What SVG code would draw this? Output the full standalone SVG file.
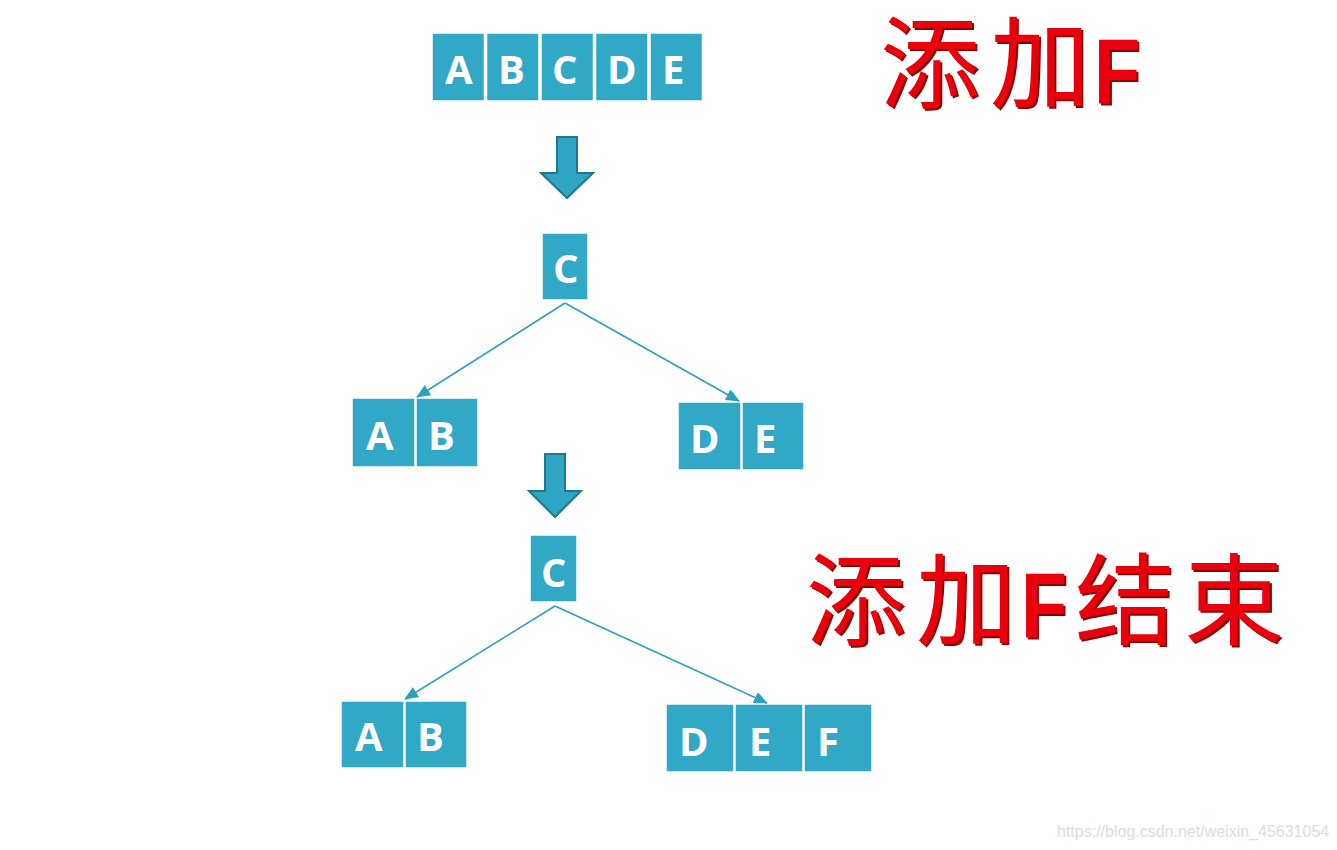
<svg xmlns="http://www.w3.org/2000/svg" width="1337" height="850" viewBox="0 0 1337 850">
<style>
.cell{fill:#31A8C6;stroke:#ffffff;stroke-width:1.5}
.lbl{font-family:"Open Sans","Liberation Sans",sans-serif;font-weight:bold;font-size:40px;fill:#ffffff}
.blk{fill:#2FA5C3;stroke:#1E7890;stroke-width:2;stroke-linejoin:miter}
.conn{stroke:#2E9FBF;stroke-width:1.6;fill:none}
.title{font-family:"Liberation Sans","Noto Sans CJK SC",sans-serif;font-size:100px;fill:#E8000B}
.latin{font-family:"Liberation Sans",Arial,sans-serif;font-weight:bold;font-size:92px;fill:#E8000B}
.wm{font-family:"Liberation Sans",Arial,sans-serif;font-size:16px;fill:#dddddd}
</style>
<defs>
<marker id="ah" markerUnits="userSpaceOnUse" markerWidth="14" markerHeight="12" refX="13" refY="6" orient="auto">
<path d="M0,0 L14,6 L0,12 Z" fill="#2E9FBF"/>
</marker>
<filter id="sh" filterUnits="userSpaceOnUse" x="0" y="0" width="1337" height="850">
<feOffset in="SourceAlpha" dx="1.5" dy="2" result="o"/>
<feFlood flood-color="#8A0000"/>
<feComposite in2="o" operator="in" result="s"/>
<feMerge><feMergeNode in="s"/><feMergeNode in="SourceGraphic"/></feMerge>
</filter>
</defs>
<rect width="1337" height="850" fill="#ffffff"/>

<g id="row-ABCDE">
<rect class="cell" x="432" y="33" width="52.5" height="68"/>
<rect class="cell" x="486.5" y="33" width="52.5" height="68"/>
<rect class="cell" x="541" y="33" width="52.5" height="68"/>
<rect class="cell" x="595.5" y="33" width="52.5" height="68"/>
<rect class="cell" x="650" y="33" width="52.5" height="68"/>
<text class="lbl" x="445" y="84">A</text>
<text class="lbl" x="498" y="84">B</text>
<text class="lbl" x="552" y="84">C</text>
<text class="lbl" x="607" y="84">D</text>
<text class="lbl" x="662" y="84">E</text>
</g>

<g id="step-arrow-1">
<path class="blk" d="M557,137 L577,137 L577,173 L593,173 L567,198 L541,173 L557,173 Z"/>
</g>

<g id="node-C1">
<rect class="cell" x="542" y="233" width="46" height="67"/>
<text class="lbl" x="553" y="283">C</text>
</g>
<g id="node-AB1">
<rect class="cell" x="352" y="398" width="63" height="69"/>
<rect class="cell" x="416" y="398" width="62" height="69"/>
<text class="lbl" x="366" y="450">A</text>
<text class="lbl" x="428" y="450">B</text>
</g>
<g id="node-DE1">
<rect class="cell" x="678" y="402" width="63" height="68"/>
<rect class="cell" x="742" y="402" width="62" height="68"/>
<text class="lbl" x="690" y="453">D</text>
<text class="lbl" x="754" y="453">E</text>
</g>

<g id="step-arrow-2">
<path class="blk" d="M545,454 L565,454 L565,491 L581,491 L555,517 L529,491 L545,491 Z"/>
</g>

<g id="node-C2">
<rect class="cell" x="530" y="535" width="47" height="67"/>
<text class="lbl" x="541" y="587">C</text>
</g>
<g id="node-AB2">
<rect class="cell" x="341" y="701" width="63" height="67"/>
<rect class="cell" x="405" y="701" width="62" height="67"/>
<text class="lbl" x="355" y="751">A</text>
<text class="lbl" x="417" y="751">B</text>
</g>
<g id="node-DEF">
<rect class="cell" x="666" y="704" width="68" height="68"/>
<rect class="cell" x="735" y="704" width="68" height="68"/>
<rect class="cell" x="804" y="704" width="68" height="68"/>
<text class="lbl" x="679" y="756">D</text>
<text class="lbl" x="749" y="756">E</text>
<text class="lbl" x="817" y="756">F</text>
</g>

<g id="connectors">
<line class="conn" x1="565" y1="303" x2="417" y2="397" marker-end="url(#ah)"/>
<line class="conn" x1="565" y1="303" x2="739" y2="401" marker-end="url(#ah)"/>
<line class="conn" x1="555" y1="606" x2="405" y2="699" marker-end="url(#ah)"/>
<line class="conn" x1="555" y1="606" x2="767" y2="703" marker-end="url(#ah)"/>
</g>

<g id="title-top" filter="url(#sh)">
<text class="title" x="880" y="100">添</text>
<text class="title" x="990" y="100">加</text>
<text class="latin" transform="translate(1094,103) scale(0.82,1)" x="0" y="0">F</text>
</g>
<g id="title-bottom" filter="url(#sh)">
<text class="title" x="806" y="637">添</text>
<text class="title" x="916" y="637">加</text>
<text class="latin" transform="translate(1021,637) scale(0.82,1)" x="0" y="0">F</text>
<text class="title" x="1075" y="637">结</text>
<text class="title" x="1184" y="637">束</text>
</g>

<text class="wm" x="1057" y="837">https://blog.csdn.net/weixin_45631054</text>
</svg>
